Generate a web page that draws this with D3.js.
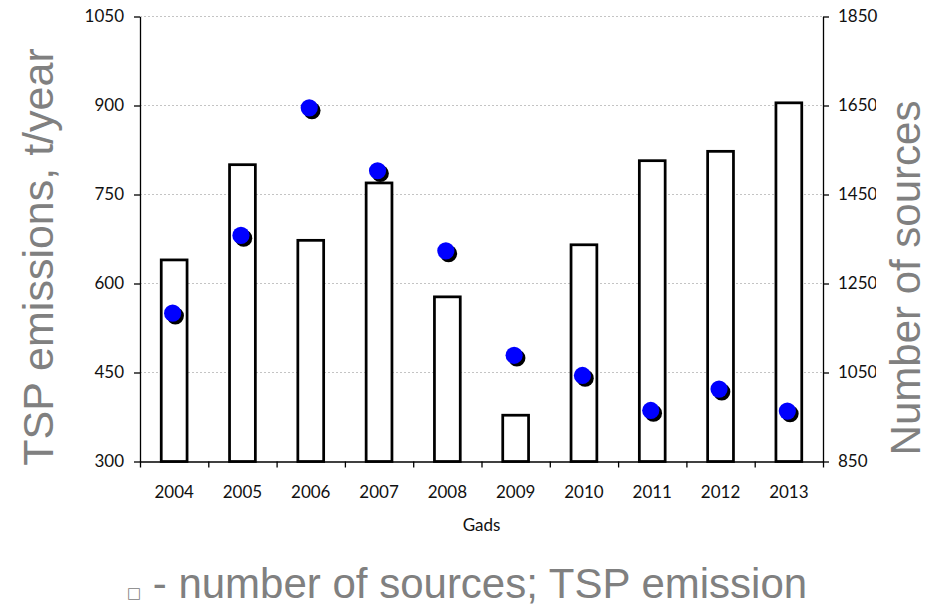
<!DOCTYPE html>
<html>
<head>
<meta charset="utf-8">
<script src="https://cdn.jsdelivr.net/npm/d3@7"></script>
<style>
  html, body { margin: 0; padding: 0; background: #fff; }
  svg { display: block; }
</style>
</head>
<body>
<svg id="chart" width="934" height="606"></svg>
<script>
// Years on the category axis
const years = ["2004", "2005", "2006", "2007", "2008", "2009", "2010", "2011", "2012", "2013"];
// Number of sources (bars, right axis)
const sources = [1303, 1517, 1347, 1476, 1220, 954, 1337, 1526, 1547, 1656];
// TSP emissions, t/year (points, left axis)
const emissions = [550, 681, 896, 790, 655, 479, 445, 386, 422, 385];
// Axis tick values
const leftTicks = [300, 450, 600, 750, 900, 1050];
const rightTicks = [850, 1050, 1250, 1450, 1650, 1850];

const W = 934, H = 606;
const plot = { left: 140, right: 823, top: 16.5, bottom: 461.5 };

const svg = d3.select("#chart");

const x = d3.scaleBand().domain(years).range([plot.left, plot.right]).paddingInner(0).paddingOuter(0);
const xEdges = d3.scaleLinear().domain([0, years.length]).range([plot.left, plot.right]);
const yL = d3.scaleLinear().domain([300, 1050]).range([plot.bottom, plot.top]);
const yR = d3.scaleLinear().domain([850, 1850]).range([plot.bottom, plot.top]);

const tickFont = "Lato, 'Open Sans', sans-serif";
const titleFont = "'Liberation Sans', Arial, sans-serif";
const gray = "#808080";

// Horizontal gridlines at the left-axis ticks
svg.append("g")
  .selectAll("line")
  .data(leftTicks.filter(d => d !== 300))
  .join("line")
  .attr("x1", plot.left).attr("x2", plot.right)
  .attr("y1", d => yL(d)).attr("y2", d => yL(d))
  .attr("stroke", "#c4c4c4")
  .attr("stroke-width", 1)
  .attr("stroke-dasharray", "2,2");

// Bars: number of sources
const barW = x.bandwidth() * 0.378;
svg.append("g")
  .selectAll("rect")
  .data(years.map((y, i) => ({ year: y, v: sources[i] })))
  .join("rect")
  .attr("x", d => x(d.year) + x.bandwidth() / 2 - barW / 2)
  .attr("width", barW)
  .attr("y", d => yR(d.v))
  .attr("height", d => yR(850) - yR(d.v))
  .attr("fill", "#fff")
  .attr("stroke", "#000")
  .attr("stroke-width", 2.75);

// Axes
function styleAxis(g) {
  g.selectAll("path.domain").attr("stroke", "#000").attr("stroke-width", 1.3);
  g.selectAll(".tick line").attr("stroke", "#000").attr("stroke-width", 1.3);
  g.selectAll("text").attr("font-family", tickFont).attr("font-size", 17).attr("fill", "#111");
}

svg.append("g")
  .attr("transform", `translate(${plot.left},0)`)
  .call(d3.axisLeft(yL).tickValues(leftTicks).tickSize(6).tickSizeOuter(0).tickPadding(10).tickFormat(d3.format("d")))
  .call(styleAxis);

svg.append("g")
  .attr("transform", `translate(${plot.right},0)`)
  .call(d3.axisRight(yR).tickValues(rightTicks).tickSize(6).tickSizeOuter(0).tickPadding(9).tickFormat(d3.format("d")))
  .call(styleAxis);

// Category boundary ticks
svg.append("g")
  .attr("transform", `translate(0,${plot.bottom})`)
  .call(d3.axisBottom(xEdges).tickValues(d3.range(0, years.length + 1)).tickSize(6).tickSizeOuter(0).tickFormat(""))
  .call(styleAxis);

// Year labels
svg.append("g")
  .attr("transform", `translate(0,${plot.bottom})`)
  .call(d3.axisBottom(x).tickSize(0).tickPadding(24))
  .call(g => g.select("path.domain").remove())
  .call(styleAxis);

// Points: TSP emissions with drop shadow
const pts = svg.append("g");
const ptData = years.map((y, i) => ({ year: y, v: emissions[i] }));
const cx = d => x(d.year) + x.bandwidth() / 2;
pts.selectAll("circle.shadow")
  .data(ptData)
  .join("circle")
  .attr("class", "shadow")
  .attr("cx", d => cx(d) + 1.2)
  .attr("cy", d => yL(d.v) + 2.7)
  .attr("r", 8.6)
  .attr("fill", "#000");
pts.selectAll("circle.dot")
  .data(ptData)
  .join("circle")
  .attr("class", "dot")
  .attr("cx", d => cx(d) - 1.5)
  .attr("cy", d => yL(d.v))
  .attr("r", 8.6)
  .attr("fill", "#0000ff");

// Axis titles
svg.append("text")
  .attr("transform", `translate(53,${(plot.top + plot.bottom) / 2 + 18}) rotate(-90)`)
  .attr("text-anchor", "middle")
  .attr("font-family", titleFont)
  .attr("font-size", 43)
  .attr("fill", gray)
  .text("TSP emissions, t/year");

// Right title sits in a white box that covers the ends of the right tick labels
svg.append("rect")
  .attr("x", 876).attr("y", 32)
  .attr("width", W - 876).attr("height", 416)
  .attr("fill", "#fff");
svg.append("text")
  .attr("transform", `translate(920,278) rotate(-90)`)
  .attr("text-anchor", "middle")
  .attr("font-family", titleFont)
  .attr("font-size", 42)
  .attr("fill", gray)
  .text("Number of sources");

svg.append("text")
  .attr("x", (plot.left + plot.right) / 2)
  .attr("y", 531)
  .attr("text-anchor", "middle")
  .attr("font-family", tickFont)
  .attr("font-size", 17)
  .attr("fill", "#111")
  .text("Gads");

// Caption line under the chart
const legend = svg.append("text")
  .attr("x", 467)
  .attr("y", 598)
  .attr("text-anchor", "middle")
  .attr("font-family", titleFont)
  .attr("font-size", 42)
  .attr("fill", gray);
legend.append("tspan").attr("font-family", "'DejaVu Sans', sans-serif").attr("font-size", 15).text("□");
legend.append("tspan").text(" - number of sources; TSP emission");
</script>
</body>
</html>
